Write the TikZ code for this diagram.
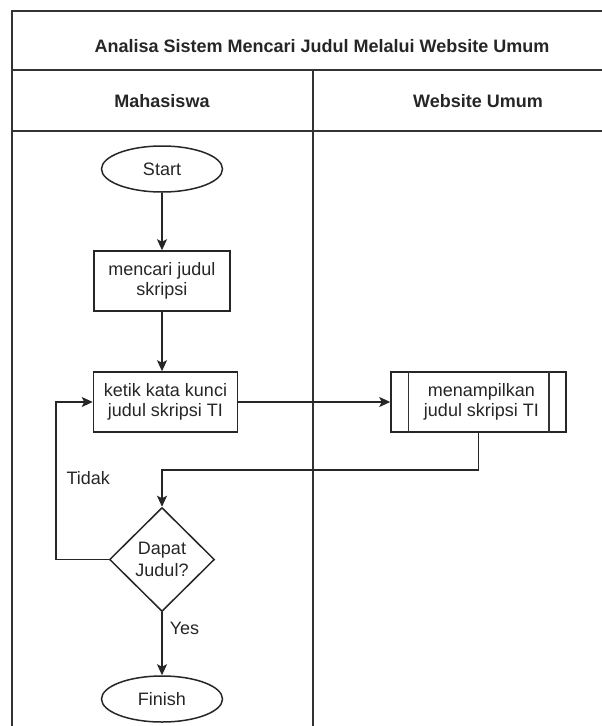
\documentclass[tikz,border=0pt]{standalone}
\usepackage{fontspec}
\setmainfont{Liberation Sans}
\usetikzlibrary{positioning, arrows.meta, shapes.geometric}

\begin{document}
\begin{tikzpicture}
    [
        x=1pt, y=-1pt, on grid, auto,
        lane_line/.style={line width=1.5pt, draw=black!80},
        flow_line/.style={line width=1.5pt, draw=black!85, -{Stealth[length=11pt, width=10pt, inset=2.5pt]}},
        base_text/.style={font=\fontsize{18}{20}\selectfont, text=black!85, align=center},
        head_text/.style={base_text, font=\fontsize{18}{20}\selectfont\bfseries},
        terminal_node/.style={base_text, ellipse, draw=black!85, line width=1.5pt, minimum width=121pt, minimum height=46pt, inner sep=0pt},
        step_node/.style={base_text, rectangle, draw=black!85, line width=1.5pt, minimum height=60pt, inner sep=0pt},
        check_node/.style={base_text, diamond, aspect=1, draw=black!85, line width=1.5pt, minimum width=105pt, minimum height=104pt, inner sep=0pt, font=\fontsize{18}{21.5}\selectfont},
    ]
        \clip (0,0) rectangle (602,726) ;
        % swimlanes
        \draw[lane_line] (12,760) -- (12,11) -- (640,11) ;
        \draw[lane_line] (12,70) -- (640,70) ;
        \draw[lane_line] (12,131) -- (640,131) ;
        \draw[lane_line] (313,70) -- (313,760) ;
        \node[head_text] (title) at (322,46) {Analisa Sistem Mencari Judul Melalui Website Umum} ;
        \node[head_text] (lane1) at (162,101) {Mahasiswa} ;
        \node[head_text] (lane2) at (478,101) {Website Umum} ;
        % flow
        \node[terminal_node] (start) at (162,169) {Start} ;
        \node[step_node, minimum width=136pt] (search) [below = 112pt of start] {mencari judul\\skripsi} ;
        \node[step_node, minimum width=144pt] (keyword) [below = 121pt of search, xshift=3.5pt] {ketik kata kunci\\judul skripsi TI} ;
        \node[step_node, minimum width=175pt] (display) [right = 313pt of keyword] {\hspace*{6pt}menampilkan\\\hspace*{6pt}judul skripsi TI} ;
        \draw[lane_line] ([xshift=18pt]display.north west) -- ([xshift=18pt]display.south west) ;
        \draw[lane_line] ([xshift=-18pt]display.north east) -- ([xshift=-18pt]display.south east) ;
        \node[check_node] (check) [below = 157.5pt of keyword, xshift=-3.5pt] {Dapat\\Judul?} ;
        \node[terminal_node] (finish) [below = 139.5pt of check] {Finish} ;
        \draw[flow_line] (start) to (search) ;
        \draw[flow_line] (search.south) to (search.south |- keyword.north) ;
        \draw[flow_line] (keyword.east) to (keyword.east -| display.west) ;
        \draw[flow_line] (display.south) -- ++(0,37) -| (check.north) ;
        \draw[flow_line] (check.west) -- ++(-53,0) |- node[pos=0.26, base_text, anchor=west, inner sep=0pt, xshift=10pt] {Tidak} (keyword.west) ;
        \draw[flow_line] (check) to node[pos=0.25, base_text, anchor=west, inner sep=0pt, xshift=7pt] {Yes} (finish) ;
    \end{tikzpicture}
\end{document}
